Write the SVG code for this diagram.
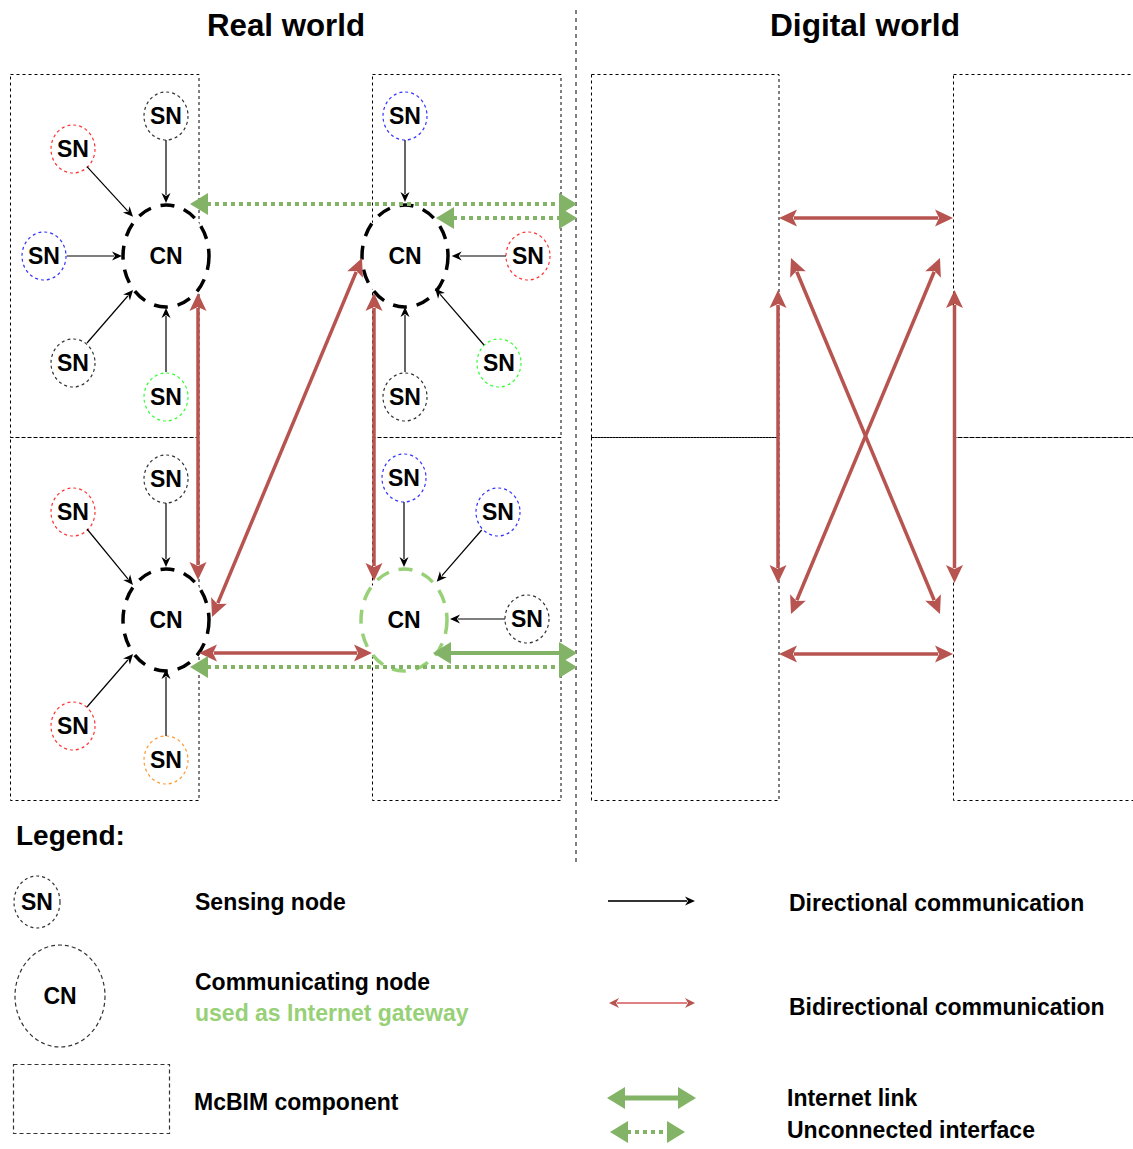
<svg xmlns="http://www.w3.org/2000/svg" width="1133" height="1149" viewBox="0 0 1133 1149">
<style>
text { font-family: "Liberation Sans", Arial, sans-serif; fill: #000; }
.title { font-size: 31px; font-weight: bold; }
.lbl { font-size: 23px; font-weight: bold; text-anchor: middle; }
.leg { font-size: 23px; font-weight: bold; }
.box { fill: none; stroke: #000; stroke-width: 1; stroke-dasharray: 3 3; }
.sn { fill: #fff; stroke-width: 1.2; stroke-dasharray: 3 3; }
.cn { fill: #fff; stroke: #000; stroke-width: 3.5; stroke-dasharray: 14 10; }
.cng { fill: #fff; stroke: #97D077; stroke-width: 3.5; stroke-dasharray: 14 10; }
.blk { stroke: #000; stroke-width: 1.2; fill: none; marker-end: url(#ab); }
.red { stroke: #B85450; stroke-width: 3.5; fill: none; marker-start: url(#ar); marker-end: url(#ar); }
.gs { stroke: #82B366; stroke-width: 4; fill: none; marker-start: url(#ag); marker-end: url(#ag); }
.gd { stroke: #82B366; stroke-width: 4; fill: none; stroke-dasharray: 4 4; marker-start: url(#ag); marker-end: url(#ag); }
</style>
<defs>
<marker id="ab" markerUnits="userSpaceOnUse" markerWidth="20" markerHeight="20" refX="2" refY="0" orient="auto" viewBox="-2 -10 20 20" overflow="visible">
<path d="M0,-4.5 L10,0 L0,4.5 L3,0 Z" fill="#000"/>
</marker>
<marker id="ar" markerUnits="userSpaceOnUse" markerWidth="30" markerHeight="30" refX="3" refY="0" orient="auto-start-reverse" viewBox="-2 -15 30 30" overflow="visible">
<path d="M0,-8.5 L18,0 L0,8.5 L4,0 Z" fill="#B85450"/>
</marker>
<marker id="arl" markerUnits="userSpaceOnUse" markerWidth="20" markerHeight="20" refX="2" refY="0" orient="auto-start-reverse" viewBox="-2 -10 20 20" overflow="visible">
<path d="M0,-5 L10,0 L0,5 L3,0 Z" fill="#B85450"/>
</marker>
<marker id="ag" markerUnits="userSpaceOnUse" markerWidth="30" markerHeight="30" refX="1" refY="0" orient="auto-start-reverse" viewBox="-2 -15 30 30" overflow="visible">
<path d="M0,-11 L18,0 L0,11 Z" fill="#82B366"/>
</marker>
</defs>
<rect x="0" y="0" width="1133" height="1149" fill="#fff"/>

<g id="titles">
<text class="title" x="207" y="36" textLength="158" lengthAdjust="spacingAndGlyphs">Real world</text>
<text class="title" x="770" y="36" textLength="190" lengthAdjust="spacingAndGlyphs">Digital world</text>
</g>

<line x1="576" y1="10" x2="576" y2="866" stroke="#000" stroke-width="1" stroke-dasharray="4 4"/>

<g id="components">
<rect id="comp-real-tl" class="box" x="10.5" y="74.5" width="188.5" height="363"/>
<rect id="comp-real-bl" class="box" x="10.5" y="437.5" width="188.5" height="363"/>
<rect id="comp-real-tr" class="box" x="372.5" y="74.5" width="188.5" height="363"/>
<rect id="comp-real-br" class="box" x="372.5" y="437.5" width="188.5" height="363"/>
<rect id="comp-dig-tl" class="box" x="591.5" y="74.5" width="187.5" height="363"/>
<rect id="comp-dig-bl" class="box" x="591.5" y="437.5" width="187.5" height="363"/>
<rect id="comp-dig-tr" class="box" x="953.5" y="74.5" width="200" height="363"/>
<rect id="comp-dig-br" class="box" x="953.5" y="437.5" width="200" height="363"/>
</g>

<g id="cn-tl"><ellipse class="cn" cx="166" cy="256" rx="43" ry="51"/><text class="lbl" x="166" y="264">CN</text></g>
<g id="sn-tl-1"><ellipse class="sn" stroke="#333" cx="166" cy="116" rx="22" ry="24"/><text class="lbl" x="166" y="124">SN</text></g>
<g id="sn-tl-2"><ellipse class="sn" stroke="#FF3333" cx="73" cy="149" rx="22" ry="24"/><text class="lbl" x="73" y="157">SN</text></g>
<g id="sn-tl-3"><ellipse class="sn" stroke="#3333FF" cx="44" cy="256" rx="22" ry="24"/><text class="lbl" x="44" y="264">SN</text></g>
<g id="sn-tl-4"><ellipse class="sn" stroke="#333" cx="73" cy="363" rx="22" ry="24"/><text class="lbl" x="73" y="371">SN</text></g>
<g id="sn-tl-5"><ellipse class="sn" stroke="#33FF33" cx="166" cy="397" rx="22" ry="24"/><text class="lbl" x="166" y="405">SN</text></g>

<g id="cn-tr"><ellipse class="cn" cx="405" cy="256" rx="43" ry="51"/><text class="lbl" x="405" y="264">CN</text></g>
<g id="sn-tr-1"><ellipse class="sn" stroke="#3333FF" cx="405" cy="116" rx="22" ry="24"/><text class="lbl" x="405" y="124">SN</text></g>
<g id="sn-tr-2"><ellipse class="sn" stroke="#FF3333" cx="528" cy="256" rx="22" ry="24"/><text class="lbl" x="528" y="264">SN</text></g>
<g id="sn-tr-3"><ellipse class="sn" stroke="#33FF33" cx="499" cy="363" rx="22" ry="24"/><text class="lbl" x="499" y="371">SN</text></g>
<g id="sn-tr-4"><ellipse class="sn" stroke="#333" cx="405" cy="397" rx="22" ry="24"/><text class="lbl" x="405" y="405">SN</text></g>

<g id="cn-bl"><ellipse class="cn" cx="166" cy="620" rx="43" ry="51"/><text class="lbl" x="166" y="628">CN</text></g>
<g id="sn-bl-1"><ellipse class="sn" stroke="#333" cx="166" cy="479" rx="22" ry="24"/><text class="lbl" x="166" y="487">SN</text></g>
<g id="sn-bl-2"><ellipse class="sn" stroke="#FF3333" cx="73" cy="512" rx="22" ry="24"/><text class="lbl" x="73" y="520">SN</text></g>
<g id="sn-bl-3"><ellipse class="sn" stroke="#FF3333" cx="73" cy="726" rx="22" ry="24"/><text class="lbl" x="73" y="734">SN</text></g>
<g id="sn-bl-4"><ellipse class="sn" stroke="#FF9933" cx="166" cy="760" rx="22" ry="24"/><text class="lbl" x="166" y="768">SN</text></g>

<g id="cn-br"><ellipse class="cng" cx="404" cy="620" rx="43" ry="51"/><text class="lbl" x="404" y="628">CN</text></g>
<g id="sn-br-1"><ellipse class="sn" stroke="#3333FF" cx="404" cy="478" rx="22" ry="24"/><text class="lbl" x="404" y="486">SN</text></g>
<g id="sn-br-2"><ellipse class="sn" stroke="#3333FF" cx="498" cy="512" rx="22" ry="24"/><text class="lbl" x="498" y="520">SN</text></g>
<g id="sn-br-3"><ellipse class="sn" stroke="#333" cx="527" cy="619" rx="22" ry="24"/><text class="lbl" x="527" y="627">SN</text></g>

<g id="connectors">
<line class="blk" x1="166" y1="140" x2="166" y2="195"/>
<line class="blk" x1="87" y1="166.7" x2="127.6" y2="210.8"/>
<line class="blk" x1="66.7" y1="256" x2="114" y2="256"/>
<line class="blk" x1="87" y1="343" x2="127.8" y2="296"/>
<line class="blk" x1="166" y1="372" x2="166" y2="316"/>
<line class="blk" x1="405" y1="140" x2="405" y2="194"/>
<line class="blk" x1="506" y1="256" x2="459.7" y2="256"/>
<line class="blk" x1="484" y1="345" x2="440.2" y2="294.4"/>
<line class="blk" x1="405" y1="372" x2="405" y2="315"/>
<line class="blk" x1="166" y1="503" x2="166" y2="559"/>
<line class="blk" x1="87" y1="529" x2="127.9" y2="578.8"/>
<line class="blk" x1="87" y1="707" x2="127.8" y2="660"/>
<line class="blk" x1="166" y1="736" x2="166" y2="677"/>
<line class="blk" x1="404" y1="502" x2="404" y2="559"/>
<line class="blk" x1="481.7" y1="530" x2="442" y2="575.7"/>
<line class="blk" x1="505" y1="619" x2="458" y2="619"/>

<line class="red" x1="198" y1="308" x2="198" y2="565"/>
<line class="red" x1="217.8" y1="603.2" x2="356.2" y2="271.8"/>
<line class="red" x1="374" y1="308" x2="374" y2="566"/>
<line class="red" x1="214" y1="653" x2="357" y2="653"/>

<line class="gd" x1="207" y1="204" x2="560" y2="204"/>
<line class="gd" x1="453" y1="218" x2="560" y2="218"/>
<line class="gs" x1="450" y1="653" x2="560" y2="653"/>
<line class="gd" x1="207" y1="667" x2="560" y2="667"/>

<line class="red" x1="794" y1="218" x2="938" y2="218"/>
<line class="red" x1="794" y1="654" x2="938" y2="654"/>
<line class="red" x1="778" y1="305" x2="778" y2="568"/>
<line class="red" x1="954.5" y1="305" x2="954.5" y2="568"/>
<line class="red" x1="796.8" y1="271.8" x2="934.2" y2="600.2"/>
<line class="red" x1="934.2" y1="271.8" x2="796.8" y2="600.2"/>
</g>

<g id="legend">
<text x="16" y="845" font-size="28" font-weight="bold">Legend:</text>
<g id="legend-sn"><ellipse cx="37" cy="902" rx="23" ry="26" fill="none" stroke="#333" stroke-width="1.2" stroke-dasharray="3 3"/><text class="lbl" x="37" y="910">SN</text></g>
<text class="leg" x="195" y="910">Sensing node</text>
<g id="legend-cn"><ellipse cx="60" cy="996" rx="45" ry="51" fill="none" stroke="#333" stroke-width="1.2" stroke-dasharray="4 3"/><text class="lbl" x="60" y="1004">CN</text></g>
<text class="leg" x="195" y="990">Communicating node</text>
<text class="leg" x="195" y="1021" style="fill:#97D077">used as Internet gateway</text>
<rect id="legend-comp" x="13.5" y="1064.5" width="156" height="69" fill="none" stroke="#333" stroke-width="1.2" stroke-dasharray="4 3"/>
<text class="leg" x="194" y="1110">McBIM component</text>

<line x1="608" y1="901" x2="687" y2="901" stroke="#333" stroke-width="2" marker-end="url(#ab)"/>
<text class="leg" x="789" y="911">Directional communication</text>
<line x1="617" y1="1003" x2="687" y2="1003" stroke="#E08080" stroke-width="2" marker-start="url(#arl)" marker-end="url(#arl)"/>
<text class="leg" x="789" y="1015">Bidirectional communication</text>
<line x1="624" y1="1098" x2="679" y2="1098" stroke="#82B366" stroke-width="5" marker-start="url(#ag)" marker-end="url(#ag)"/>
<text class="leg" x="787" y="1106">Internet link</text>
<line x1="627" y1="1132" x2="668" y2="1132" stroke="#82B366" stroke-width="4" stroke-dasharray="4 4" marker-start="url(#ag)" marker-end="url(#ag)"/>
<text class="leg" x="787" y="1138">Unconnected interface</text>
</g>
</svg>
